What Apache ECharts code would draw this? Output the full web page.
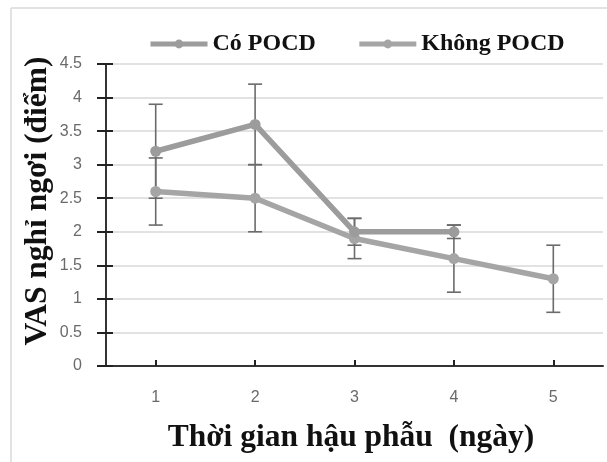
<!DOCTYPE html>
<html>
<head>
<meta charset="utf-8">
<script src="https://cdn.jsdelivr.net/npm/echarts@6/dist/echarts.min.js"></script>
<style>html,body{margin:0;padding:0;background:#fff;}#c{width:607px;height:462px;}</style>
</head>
<body>
<div id="c"></div>
<script>
const categories = ['1', '2', '3', '4', '5'];
const coMean = [3.2, 3.6, 2.0, 2.0, null];
const coErr = [0.7, 0.6, 0.2, 0.1, null];
const khongMean = [2.6, 2.5, 1.9, 1.6, 1.3];
const khongErr = [0.5, 0.5, 0.3, 0.5, 0.5];
const yTicks = { min: 0, max: 4.5, interval: 0.5 };
const seriesNames = ['Có POCD', 'Không POCD'];
const xTitle = 'Thời gian hậu phẫu  (ngày)';
const yTitle = 'VAS nghỉ ngơi (điểm)';

function errData(mean, err) {
  const out = [];
  mean.forEach((m, i) => {
    if (m != null && err[i] != null) out.push([i, m - err[i], m + err[i]]);
  });
  return out;
}

function renderErr(params, api) {
  const x = api.value(0);
  const lo = api.coord([x, api.value(1)]);
  const hi = api.coord([x, api.value(2)]);
  const hw = 7;
  const st = { stroke: '#6b6b6b', lineWidth: 1.6 };
  return {
    type: 'group',
    children: [
      { type: 'line', shape: { x1: lo[0], y1: lo[1], x2: hi[0], y2: hi[1] }, style: st },
      { type: 'line', shape: { x1: lo[0] - hw, y1: lo[1], x2: lo[0] + hw, y2: lo[1] }, style: st },
      { type: 'line', shape: { x1: hi[0] - hw, y1: hi[1], x2: hi[0] + hw, y2: hi[1] }, style: st }
    ]
  };
}

const W = 607, H = 462;
const G = { left: 106, right: 4, top: 64, bottom: 96 };
const chart = echarts.init(document.getElementById('c'));
const serif = '"Liberation Serif", "DejaVu Serif", serif';
const tickLabel = { color: '#6a6a6a', fontSize: 16, fontFamily: '"Liberation Sans", Arial, sans-serif' };

chart.setOption({
  animation: false,
  backgroundColor: '#fff',
  grid: G,
  legend: {
    left: 143, top: 27,
    itemWidth: 57, itemHeight: 11, itemGap: 41,
    lineStyle: { width: 5 },
    textStyle: { fontFamily: serif, fontSize: 24, fontWeight: 'bold', color: '#111' },
    data: seriesNames
  },
  xAxis: [{
    type: 'category', data: categories, boundaryGap: true, position: 'bottom',
    axisLine: { lineStyle: { color: '#333', width: 2 } },
    axisTick: { alignWithLabel: true, interval: 0, length: 8, lineStyle: { color: '#222', width: 2 } },
    axisLabel: Object.assign({ margin: 24 }, tickLabel)
  }, {
    type: 'category', data: categories, boundaryGap: true, position: 'top',
    offset: -(H - G.top - G.bottom),
    axisLine: { show: false },
    axisTick: { show: true, interval: 0, alignWithLabel: true, length: 6, lineStyle: { color: '#222', width: 2 } },
    axisLabel: { show: false }
  }],
  yAxis: [{
    type: 'value', min: yTicks.min, max: yTicks.max, interval: yTicks.interval, position: 'left',
    axisLine: { show: true, lineStyle: { color: '#333', width: 2 } },
    axisTick: { show: true, length: 9, lineStyle: { color: '#222', width: 2 } },
    axisLabel: Object.assign({ margin: 24 }, tickLabel),
    splitLine: { lineStyle: { color: '#d9d9d9', width: 1.5 } }
  }, {
    type: 'value', min: yTicks.min, max: yTicks.max, interval: yTicks.interval, position: 'right',
    offset: -(W - G.left - G.right),
    axisLine: { show: false },
    axisTick: { show: true, length: 7, lineStyle: { color: '#222', width: 2 } },
    axisLabel: { show: false },
    splitLine: { show: false }
  }],
  graphic: [
    { type: 'line', shape: { x1: 11, y1: 8, x2: 607, y2: 8 }, style: { stroke: '#d9d9d9', lineWidth: 1.5 } },
    { type: 'line', shape: { x1: 11, y1: 8, x2: 11, y2: 462 }, style: { stroke: '#d9d9d9', lineWidth: 1.5 } },
    { type: 'text', x: 351, y: 438, style: { text: xTitle, font: 'bold 31.5px ' + serif, fill: '#111', textAlign: 'center', textVerticalAlign: 'middle' } },
    { type: 'text', x: 38, y: 201, rotation: Math.PI / 2, style: { text: yTitle, font: 'bold 31.5px ' + serif, fill: '#111', textAlign: 'center', textVerticalAlign: 'middle' } }
  ],
  series: [
    {
      type: 'custom', name: 'errCo', renderItem: renderErr, data: errData(coMean, coErr), z: 1, silent: true,
      encode: { x: 0, y: [1, 2] }
    },
    {
      type: 'custom', name: 'errKhong', renderItem: renderErr, data: errData(khongMean, khongErr), z: 1, silent: true,
      encode: { x: 0, y: [1, 2] }
    },
    {
      name: seriesNames[0], type: 'line', data: coMean, z: 3,
      symbol: 'circle', symbolSize: 11,
      lineStyle: { color: '#9c9c9c', width: 5.5 },
      itemStyle: { color: '#9c9c9c' }
    },
    {
      name: seriesNames[1], type: 'line', data: khongMean, z: 2,
      symbol: 'circle', symbolSize: 11,
      lineStyle: { color: '#a5a5a5', width: 5.5 },
      itemStyle: { color: '#a5a5a5' }
    }
  ]
});
</script>
</body>
</html>
